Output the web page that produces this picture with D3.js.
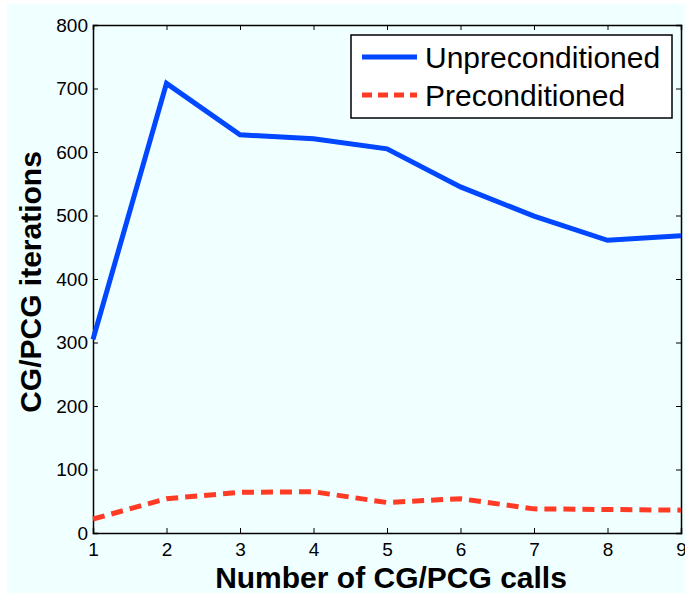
<!DOCTYPE html>
<html>
<head>
<meta charset="utf-8">
<script src="https://cdn.jsdelivr.net/npm/d3@7"></script>
<style>
  body { margin: 0; background: #fff; }
  text { font-family: "Liberation Sans", Arial, Helvetica, sans-serif; }
</style>
</head>
<body>
<script>
// chart data
const calls = [1, 2, 3, 4, 5, 6, 7, 8, 9]
const unpreconditioned = [305, 708, 627, 621, 605, 545, 499, 461, 468]
const preconditioned = [22, 54, 64, 65, 48, 54, 38, 37, 36]
const yTicks = [0, 100, 200, 300, 400, 500, 600, 700, 800]
const seriesNames = ["Unpreconditioned", "Preconditioned"]

const W = 685, H = 594
const margin = { top: 25, right: 4, bottom: 61, left: 93 }
const width = W - margin.left - margin.right
const height = H - margin.top - margin.bottom

const svg = d3.select("body").append("svg")
    .attr("width", W)
    .attr("height", H)

// light cyan figure background
svg.append("rect")
    .attr("x", 7).attr("y", 4)
    .attr("width", W - 7).attr("height", H - 5)
    .attr("fill", "#f0ffff")

const g = svg.append("g")
    .attr("transform", "translate(" + margin.left + "," + margin.top + ")")

const x = d3.scaleLinear().domain([1, 9]).range([0, width])
const y = d3.scaleLinear().domain([0, 800]).range([height, 0])

// axes with inward ticks, box style
const xAxis = d3.axisBottom(x).tickValues(calls).tickSize(-5).tickPadding(10).tickFormat(d3.format("d"))
const yAxis = d3.axisLeft(y).tickValues(yTicks).tickSize(-5).tickPadding(5)

g.append("g")
    .attr("transform", "translate(0," + height + ")")
    .call(xAxis)
g.append("g").call(yAxis)

g.append("g").call(d3.axisTop(x).tickValues(calls).tickSize(-5).tickFormat(""))
g.append("g").attr("transform", "translate(" + width + ",0)")
    .call(d3.axisRight(y).tickValues(yTicks).tickSize(-5).tickFormat(""))

g.selectAll(".domain").attr("stroke", "#000").attr("stroke-width", 1.5)
g.selectAll(".tick line").attr("stroke", "#000").attr("stroke-width", 1)
g.selectAll(".tick text")
    .attr("fill", "#000")
    .style("font-size", "19px")
    .style("font-family", "'Liberation Sans', Arial, sans-serif")

const line = d3.line()
    .x((d, i) => x(calls[i]))
    .y(d => y(d))

g.append("path")
    .datum(unpreconditioned)
    .attr("d", line)
    .attr("fill", "none")
    .attr("stroke", "#0047ff")
    .attr("stroke-width", 5)
    .attr("stroke-linejoin", "miter")

g.append("path")
    .datum(preconditioned)
    .attr("d", line)
    .attr("fill", "none")
    .attr("stroke", "#ff3b26")
    .attr("stroke-width", 5)
    .attr("stroke-dasharray", "12,7")

// legend
const legend = svg.append("g").attr("transform", "translate(351,35)")
legend.append("rect")
    .attr("width", 321).attr("height", 83)
    .attr("fill", "#fff")
    .attr("stroke", "#000").attr("stroke-width", 1.5)

const legendColors = ["#0047ff", "#ff3b26"]
const legendDash = [null, "10,6"]
seriesNames.forEach((name, i) => {
    const ly = 22 + i * 38
    legend.append("line")
        .attr("x1", 11).attr("x2", 66)
        .attr("y1", ly).attr("y2", ly)
        .attr("stroke", legendColors[i])
        .attr("stroke-width", 5)
        .attr("stroke-dasharray", legendDash[i])
    legend.append("text")
        .attr("x", 74).attr("y", ly + 11)
        .style("font-size", "30px")
        .text(name)
})

// axis labels
svg.append("text")
    .attr("x", 391)
    .attr("y", 588)
    .attr("text-anchor", "middle")
    .style("font-size", "30px")
    .style("font-weight", "bold")
    .text("Number of CG/PCG calls")

svg.append("text")
    .attr("transform", "translate(41,282) rotate(-90)")
    .attr("text-anchor", "middle")
    .style("font-size", "30px")
    .style("font-weight", "bold")
    .text("CG/PCG iterations")
</script>
</body>
</html>
